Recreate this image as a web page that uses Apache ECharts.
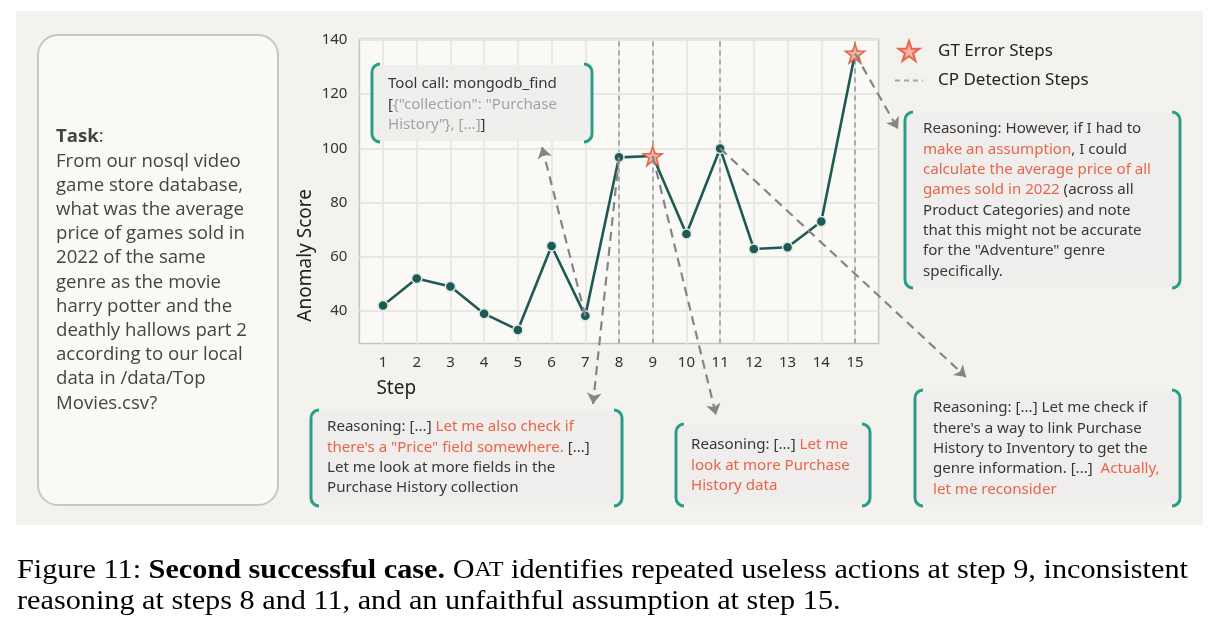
<!DOCTYPE html>
<html>
<head>
<meta charset="utf-8">
<script src="https://cdn.jsdelivr.net/npm/echarts@6/dist/echarts.min.js"></script>
<style>
  html, body { margin: 0; padding: 0; background: #ffffff; }
  #chart { width: 1218px; height: 634px; }
</style>
</head>
<body>
<div id="chart"></div>
<script>
// data
const steps = [1, 2, 3, 4, 5, 6, 7, 8, 9, 10, 11, 12, 13, 14, 15];
const scores = [42, 52, 49, 39, 33, 64, 38.2, 96.7, 97.2, 68.4, 100, 62.9, 63.5, 73, 135];
const gtErrorSteps = [9, 15];
const cpDetectionSteps = [8, 9, 11, 15];
const yTicks = [40, 60, 80, 100, 120, 140];

const TEAL = '#2a9d8a';
const ORANGE = '#e8654a';
const DARK = '#383838';
const LIGHT = '#a3a3a3';
const BOX_FONT = 'Noto Sans';
const BOX_SIZE = 15.1;
const BOX_LH = 20.3;

const chart = echarts.init(document.getElementById('chart'));

// arrow from a step's point to an annotation box (end in pixels)
const arrows = [
	{ step: 7, x: 542, y: 147 },
	{ step: 8, x: 593, y: 404 },
	{ step: 9, x: 716, y: 415 },
	{ step: 11, x: 966, y: 377 },
	{ step: 15, x: 898, y: 129 }
];

function corner(cx, cy, r, a0, a1) {
	return {
		type: 'arc',
		z: 101,
		shape: { cx: cx, cy: cy, r: r, startAngle: a0, endAngle: a1, clockwise: true },
		style: { fill: null, stroke: TEAL, lineWidth: 3 }
	};
}

function bracketBox(x, y, w, h, lines, tx, ty, baseFill) {
	let r = 8;
	let P = Math.PI;
	let lineStyle = { stroke: TEAL, lineWidth: 3 };
	let font = { fontFamily: BOX_FONT, fontSize: BOX_SIZE, lineHeight: BOX_LH };
	return {
		type: 'group',
		z: 100,
		children: [
			{
				type: 'rect',
				shape: { x: x + 2, y: y + 1, width: w - 4, height: h - 2, r: 4 },
				style: { fill: 'rgba(238,238,236,0.92)' },
				z: 100
			},
			corner(x + r, y + r, r, P, 1.5 * P),
			corner(x + r, y + h - r, r, 0.5 * P, P),
			corner(x + w - r, y + r, r, 1.5 * P, 2 * P),
			corner(x + w - r, y + h - r, r, 0, 0.5 * P),
			{ type: 'line', z: 101, shape: { x1: x, y1: y + r, x2: x, y2: y + h - r }, style: lineStyle },
			{ type: 'line', z: 101, shape: { x1: x + w, y1: y + r, x2: x + w, y2: y + h - r }, style: lineStyle },
			{
				type: 'text',
				x: tx,
				y: ty,
				z: 102,
				style: Object.assign({
					text: lines.join('\n'),
					fill: baseFill || DARK,
					rich: {
						o: Object.assign({ fill: ORANGE }, font),
						g: Object.assign({ fill: LIGHT }, font),
						d: Object.assign({ fill: DARK }, font)
					}
				}, font)
			}
		]
	};
}

const taskLines = [
	'{b|Task}:',
	'From our nosql video',
	'game store database,',
	'what was the average',
	'price of games sold in',
	'2022 of the same',
	'genre as the movie',
	'harry potter and the',
	'deathly hallows part 2',
	'according to our local',
	'data in /data/Top',
	'Movies.csv?'
];

const option = {
	backgroundColor: '#ffffff',
	animation: false,
	textStyle: { fontFamily: 'Noto Sans' },
	grid: {
		left: 359.4,
		right: 1218 - 878.6,
		top: 39.2,
		bottom: 634 - 343.5,
		show: true,
		backgroundColor: '#faf9f6',
		borderColor: '#c4c4c2',
		borderWidth: 1.5
	},
	legend: {
		orient: 'vertical',
		left: 889,
		top: 35,
		itemWidth: 28,
		itemHeight: 20,
		itemGap: 10,
		textStyle: { fontSize: 17, color: '#222', fontFamily: 'Noto Sans', padding: [0, 0, 0, 10] },
		data: ['GT Error Steps', 'CP Detection Steps']
	},
	xAxis: {
		type: 'value',
		min: 0.3,
		max: 15.7,
		name: 'Step',
		nameLocation: 'start',
		nameGap: -17,
		nameTextStyle: { fontSize: 19, color: '#222', align: 'left', verticalAlign: 'top', padding: [36, 0, 0, 0] },
		axisLine: { show: false },
		axisTick: { show: false, customValues: steps },
		axisLabel: { customValues: steps, fontSize: 15, color: '#333', margin: 12 },
		splitLine: { show: false }
	},
	yAxis: {
		type: 'value',
		min: 28,
		max: 140.3,
		name: 'Anomaly Score',
		nameLocation: 'middle',
		nameGap: 44,
		nameRotate: 90,
		nameTextStyle: { fontSize: 19, color: '#222', padding: [0, 128, 0, 0] },
		axisLine: { show: false },
		axisTick: { show: false, customValues: yTicks },
		axisLabel: { customValues: yTicks, fontSize: 15, color: '#333', margin: 12 },
		splitLine: { show: true, lineStyle: { color: '#e8e7e4', width: 1.8 } }
	},
	series: [
		{
			// vertical grid lines at every step
			name: 'step grid',
			type: 'line',
			data: [],
			z: 1,
			markLine: {
				z: 1,
				silent: true,
				symbol: ['none', 'none'],
				label: { show: false },
				lineStyle: { color: '#e8e7e4', type: 'solid', width: 1.8 },
				data: steps.map(function (s) { return { xAxis: s }; })
			}
		},
		{
			name: 'CP Detection Steps',
			type: 'line',
			data: [],
			symbol: 'none',
			lineStyle: { color: '#a5a5a5', type: [5, 4], width: 1.8 },
			itemStyle: { color: '#a5a5a5', opacity: 0 },
			z: 2,
			markLine: {
				z: 2,
				silent: true,
				symbol: ['none', 'none'],
				label: { show: false },
				lineStyle: { color: '#a5a5a5', type: [5, 4], width: 1.8 },
				data: cpDetectionSteps.map(function (s) { return { xAxis: s }; })
			}
		},
		{
			name: 'Anomaly Score',
			type: 'line',
			data: steps.map(function (s, i) { return [s, scores[i]]; }),
			symbol: 'circle',
			symbolSize: 10,
			lineStyle: { color: '#1d5a53', width: 2.6 },
			itemStyle: { color: '#1d5a53', borderColor: '#dde8e5', borderWidth: 1.5 },
			z: 3
		},
		{
			name: 'GT Error Steps',
			type: 'scatter',
			data: gtErrorSteps.map(function (s) { return [s, scores[s - 1]]; }),
			symbol: 'path://M50,0 L61.8,35.3 L98.5,35.3 L68.8,57.1 L79.9,92.5 L50,70.6 L20.1,92.5 L31.2,57.1 L1.5,35.3 L38.2,35.3 Z',
			symbolSize: 19,
			itemStyle: { color: '#f2b3a0', borderColor: '#e5674e', borderWidth: 1.6, opacity: 1 },
			z: 4
		},
		{
			name: 'arrows',
			type: 'line',
			data: [],
			z: 5,
			markLine: {
				z: 5,
				silent: true,
				symbol: ['none', 'arrow'],
				symbolSize: 11,
				label: { show: false },
				lineStyle: { color: '#858585', type: [9, 6], width: 2.2 },
				itemStyle: { color: '#858585' },
				data: arrows.map(function (a) {
					return [{ coord: [a.step, scores[a.step - 1]] }, { x: a.x, y: a.y }];
				})
			}
		}
	],
	graphic: [
		{
			type: 'rect',
			z: -100,
			shape: { x: 16, y: 11, width: 1187, height: 514 },
			style: { fill: '#f4f2ec' }
		},
		{
			type: 'rect',
			z: -50,
			shape: { x: 38, y: 35, width: 240, height: 470, r: 20 },
			style: { fill: '#faf9f6', stroke: '#c6c6c4', lineWidth: 2 }
		},
		{
			type: 'text',
			x: 56,
			y: 125,
			z: -40,
			style: {
				text: taskLines.join('\n'),
				fontFamily: 'Open Sans',
				fontSize: 18.6,
				lineHeight: 24.2,
				fill: '#444',
				rich: {
					b: { fontFamily: 'Open Sans', fontSize: 18.6, lineHeight: 24.2, fontWeight: 'bold', fill: '#444' }
				}
			}
		},
		bracketBox(372, 64, 220, 78, [
			'{d|Tool call: mongodb_find}',
			'{d|[}{"collection": "Purchase',
			'History\u201d}, [...]{d|]}'
		], 388, 74, LIGHT),
		bracketBox(905, 112, 275, 176, [
			'Reasoning: However, if I had to',
			'{o|make an assumption}, I could',
			'{o|calculate the average price of all}',
			'{o|games sold in 2022} (across all',
			'Product Categories) and note',
			'that this might not be accurate',
			'for the "Adventure" genre',
			'specifically.'
		], 923, 119),
		bracketBox(311, 410, 311, 96, [
			'Reasoning: [...] {o|Let me also check if}',
			'{o|there\'s a "Price" field somewhere.} [...]',
			'Let me look at more fields in the',
			'Purchase History collection'
		], 327, 417),
		bracketBox(676, 424, 194, 82, [
			'Reasoning: [...] {o|Let me}',
			'{o|look at more Purchase}',
			'{o|History data}'
		], 691, 435),
		bracketBox(915, 390, 265, 116, [
			'Reasoning: [...] Let me check if',
			'there\'s a way to link Purchase',
			'History to Inventory to get the',
			'genre information. [...]  {o|Actually,}',
			'{o|let me reconsider}'
		], 933, 398),
		{
			type: 'text',
			x: 17,
			y: 555,
			scaleX: 1.08,
			style: {
				text: 'Figure 11: {b|Second successful case.} O{sc|AT} identifies repeated useless actions at step 9, inconsistent\n' +
					'reasoning at steps 8 and 11, and an unfaithful assumption at step 15.',
				fontFamily: 'Liberation Serif',
				fontSize: 28,
				lineHeight: 31,
				fill: '#000',
				rich: {
					b: { fontFamily: 'Liberation Serif', fontSize: 28, lineHeight: 31, fontWeight: 'bold', fill: '#000' },
					sc: { fontFamily: 'Liberation Serif', fontSize: 22, lineHeight: 31, fill: '#000' }
				}
			}
		}
	]
};

chart.setOption(option);
</script>
</body>
</html>
